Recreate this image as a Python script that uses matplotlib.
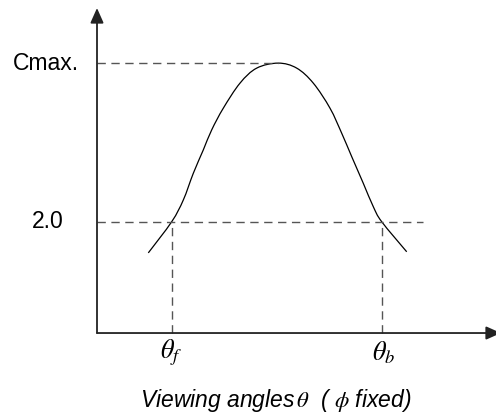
import matplotlib
matplotlib.use("Agg")
import matplotlib.pyplot as plt
from matplotlib.path import Path
from matplotlib.patches import PathPatch

plt.rcParams['font.family'] = ['Liberation Sans', 'DejaVu Sans']
plt.rcParams['mathtext.fontset'] = 'stix'

# Data (arbitrary units read from the schematic)
angle = [51.3, 74.7, 86.3, 96.3, 106.3, 114.7, 126.3, 143.0, 159.7, 181.3,
         199.7, 216.3, 233.0, 244.7, 254.7, 266.3, 276.3, 284.7, 309.7]
contrast = [1.44, 2.00, 2.39, 2.87, 3.29, 3.65, 4.04, 4.49, 4.76, 4.85,
            4.76, 4.49, 4.04, 3.59, 3.17, 2.69, 2.27, 2.00, 1.46]
c_max = 4.85
c_thr = 2.0
theta_f = 74.7
theta_b = 284.7
y_labels = ["Cmax.", "2.0"]

fig = plt.figure(figsize=(4.96, 4.17), dpi=100)
ax = fig.add_axes([0, 0, 1, 1])
ax.set_xlim(-97, 399)
ax.set_ylim(-1.509, 5.984)
ax.axis('off')

dash_color = '#555555'
dash = (0, (6, 4))

# axes with arrows
arrow = dict(arrowstyle='-|>,head_length=0.9,head_width=0.4',
             color='#222222', lw=1.3, shrinkA=0, shrinkB=0)
ax.annotate('', xy=(0, 5.84), xytext=(0, 0), arrowprops=arrow,
            annotation_clip=False)
ax.annotate('', xy=(404, 0), xytext=(0, 0), arrowprops=arrow,
            annotation_clip=False)

# reference dashed lines
ax.plot([0, angle[contrast.index(c_max)]], [c_max, c_max], ls=dash,
        color=dash_color, lw=1.0)
ax.plot([0, 326], [c_thr, c_thr], ls=dash, color=dash_color, lw=1.0)
ax.plot([theta_f, theta_f], [0, c_thr], ls=dash, color=dash_color, lw=1.0)
ax.plot([theta_b, theta_b], [0, c_thr], ls=dash, color=dash_color, lw=1.0)

# smooth curve through the read points (Catmull-Rom rendered as Bezier path)
pts = list(zip(angle, contrast))
n = len(pts)
verts = [pts[0]]
codes = [Path.MOVETO]
for i in range(n - 1):
    p0 = pts[i - 1] if i > 0 else pts[i]
    p1 = pts[i]
    p2 = pts[i + 1]
    p3 = pts[i + 2] if i + 2 < n else pts[i + 1]
    c1 = (p1[0] + (p2[0] - p0[0]) / 6, p1[1] + (p2[1] - p0[1]) / 6)
    c2 = (p2[0] - (p3[0] - p1[0]) / 6, p2[1] - (p3[1] - p1[1]) / 6)
    verts += [c1, c2, p2]
    codes += [Path.CURVE4] * 3
ax.add_patch(PathPatch(Path(verts, codes), fill=False, edgecolor='black',
                       lw=0.9))

# labels
ax.text(-51, c_max, y_labels[0], fontsize=16.5, ha='center', va='center')
ax.text(-49, c_thr, y_labels[1], fontsize=16.5, ha='center', va='center')
ax.text(theta_f, -0.36, r'$\theta_{f}$', fontsize=19, ha='center', va='center')
ax.text(theta_b + 2, -0.36, r'$\theta_{b}$', fontsize=19, ha='center', va='center')
ax.text(179, -1.22, r'Viewing angles$\,\theta$  ( $\phi$ fixed)', fontsize=16.5,
        ha='center', va='center', style='italic')

fig.savefig('out.png', dpi=100)
